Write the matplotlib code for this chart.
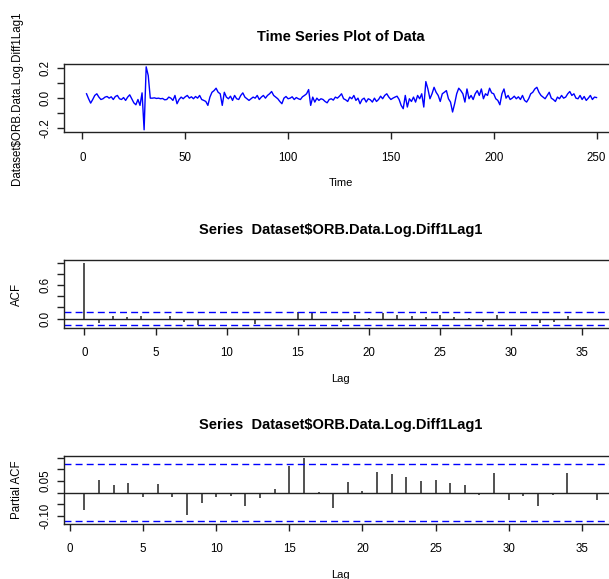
from __future__ import annotations

import matplotlib
matplotlib.use("Agg")
import matplotlib.pyplot as plt
import numpy as np

# series Dataset$ORB.Data.Log.Diff1Lag1, t = 2..250 (t = 1 is NA)
T_START = 2
SERIES = [
    0.029, -0.004, -0.033, -0.009, 0.018, 0.029, 0.007, -0.009, -0.004, 0.007,
    0.011, 0.0, 0.009, -0.009, 0.011, 0.018, -0.004, -0.009, 0.004, -0.015,
    0.007, 0.022, -0.004, -0.031, -0.044, -0.009, -0.048, 0.035, -0.21, 0.208,
    0.15, 0.0, 0.0, 0.002, -0.002, 0.0, -0.004, -0.002, -0.011, -0.009,
    0.007, 0.0, -0.015, 0.018, -0.037, -0.009, 0.007, -0.004, 0.009, 0.018,
    0.0, 0.009, -0.004, 0.011, 0.0, 0.018, -0.009, -0.015, -0.022, -0.048,
    0.007, 0.039, 0.050, 0.066, 0.039, 0.029, -0.048, 0.039, 0.007, -0.004,
    0.013, -0.015, 0.018, -0.004, -0.009, 0.018, 0.035, 0.007, -0.004, -0.015,
    -0.004, 0.007, 0.0, 0.018, -0.009, 0.007, 0.018, 0.0, 0.018, 0.029,
    0.044, 0.018, 0.007, -0.004, -0.022, -0.037, 0.0, 0.011, -0.004, 0.0,
    0.009, -0.009, 0.004, -0.004, -0.009, 0.009, 0.018, 0.029, 0.057, -0.048,
    0.007, -0.026, 0.0, -0.015, -0.004, -0.009, -0.022, -0.031, -0.009, -0.004,
    -0.013, 0.007, 0.0, 0.013, 0.029, -0.004, -0.011, -0.022, 0.007, -0.004,
    0.018, -0.015, 0.0, -0.037, -0.009, 0.0, -0.026, -0.004, -0.011, -0.026,
    0.0, -0.022, -0.009, 0.013, -0.004, 0.018, 0.029, 0.007, -0.009, 0.0,
    0.007, 0.013, -0.009, -0.048, -0.070, 0.018, -0.059, -0.004, -0.022, 0.007,
    -0.026, 0.018, -0.004, 0.029, -0.059, 0.110, 0.061, -0.004, 0.029, 0.072,
    0.039, 0.018, -0.022, 0.029, 0.039, 0.050, -0.004, -0.026, -0.092, -0.037,
    0.029, 0.066, 0.050, 0.029, -0.026, 0.061, -0.004, 0.018, -0.009, 0.029,
    0.050, 0.018, 0.061, -0.004, 0.029, 0.018, 0.066, 0.035, 0.029, -0.004,
    -0.015, -0.044, 0.029, 0.061, 0.0, 0.018, -0.009, 0.0, 0.013, -0.004,
    0.009, -0.009, 0.018, -0.015, -0.026, -0.004, 0.029, 0.039, 0.061, 0.072,
    0.039, 0.018, 0.007, -0.004, 0.018, 0.039, 0.0, -0.009, -0.022, 0.007,
    -0.004, 0.018, 0.0, 0.007, 0.029, 0.044, 0.018, 0.029, 0.0, -0.004,
    0.018, -0.009, 0.011, -0.015, 0.0, 0.018, -0.009, 0.007, 0.004,
]

# acf, lags 0..36
ACF = [
    1.0, -0.076, 0.054, 0.02, 0.045, -0.02, 0.045, -0.06, -0.11, -0.035,
    -0.02, -0.03, -0.10, -0.03, -0.03, 0.11, 0.12, -0.03, -0.06, 0.06,
    0.005, 0.10, 0.06, 0.04, 0.02, 0.06, 0.02, 0.01, -0.06, 0.06,
    -0.035, -0.005, -0.08, -0.06, 0.04, -0.035, -0.035,
]

# pacf, lags 1..36
PACF = [
    -0.076, 0.054, 0.031, 0.040, -0.020, 0.035, -0.020, -0.095, -0.044, -0.021,
    -0.017, -0.058, -0.024, 0.013, 0.114, 0.147, 0.003, -0.065, 0.044, 0.006,
    0.090, 0.080, 0.068, 0.049, 0.054, 0.040, 0.031, -0.010, 0.085, -0.030,
    -0.016, -0.056, -0.010, 0.085, -0.006, -0.030,
]

SERIES_NAME = "Dataset$ORB.Data.Log.Diff1Lag1"
ACF_TITLE = "Series  " + SERIES_NAME
TS_TITLE = "Time Series Plot of Data"

TS_YTICKS = [-0.2, -0.1, 0.0, 0.1, 0.2]
TS_YLABELS = ["-0.2", "", "0.0", "", "0.2"]
ACF_YTICKS = [0.0, 0.2, 0.4, 0.6, 0.8, 1.0]
ACF_YLABELS = ["0.0", "", "", "0.6", "", ""]
PACF_YTICKS = [-0.10, -0.05, 0.0, 0.05, 0.10, 0.15]
PACF_YLABELS = ["-0.10", "", "", "0.05", "", ""]

plt.rcParams.update(
    {
        "font.family": ["Liberation Sans", "DejaVu Sans"],
        "font.size": 8,
        "axes.linewidth": 1.0,
        "axes.edgecolor": "#222222",
    }
)

W, H = 609, 579
AX_LEFT, AX_RIGHT = 64, 617


def r_range(lo: float, hi: float) -> tuple[float, float]:
    # R's default 4% axis extension
    d = (hi - lo) * 0.04
    return lo - d, hi + d


def make_axes(fig, top: float, bottom: float):
    return fig.add_axes([AX_LEFT / W, 1 - bottom / H, (AX_RIGHT - AX_LEFT) / W, (bottom - top) / H])


def style(ax, title, title_off, xlabel, ylabel, height, yticks, ylabels, xticks):
    ax.set_xticks(xticks)
    ax.set_xticklabels([str(v) for v in xticks])
    ax.set_yticks(yticks)
    ax.set_yticklabels(ylabels, rotation=90, va="center")
    ax.tick_params(direction="out", length=5, width=1, labelsize=8.3, color="#222222")
    ax.tick_params(axis="x", pad=9)
    ax.tick_params(axis="y", pad=4)
    ax.text(0.5, 1 + title_off / height, title, transform=ax.transAxes,
            ha="center", va="center", fontsize=10.5, fontweight="bold")
    ax.set_xlabel(xlabel, fontsize=8, va="center")
    ax.xaxis.set_label_coords(0.5, -51 / height)
    ax.set_ylabel(ylabel, fontsize=8.3, va="center")
    ax.yaxis.set_label_coords(-(AX_LEFT - 17) / (AX_RIGHT - AX_LEFT), 0.5)


def main() -> None:
    fig = plt.figure(figsize=(W / 100, H / 100), dpi=100)
    n = len(SERIES)
    clim = 1.96 / np.sqrt(n)

    # time series
    ax1 = make_axes(fig, 64.3, 132.3)
    t = np.arange(T_START, T_START + n)
    ax1.plot(t, SERIES, color="#0000ff", lw=1.0)
    ax1.set_xlim(*r_range(1, t[-1]))
    ax1.set_ylim(*r_range(min(SERIES), max(SERIES)))
    style(ax1, TS_TITLE, 27, "Time", SERIES_NAME, 68, TS_YTICKS, TS_YLABELS,
          [0, 50, 100, 150, 200, 250])

    # acf
    ax2 = make_axes(fig, 260, 328)
    lags = np.arange(len(ACF))
    ax2.vlines(lags, 0, ACF, color="#222222", lw=1.1)
    ax2.axhline(0, color="#222222", lw=1.0)
    for c in (clim, -clim):
        ax2.axhline(c, color="#0000ff", lw=1.0, ls=(0, (5, 3)))
    ax2.set_xlim(*r_range(0, lags[-1]))
    ax2.set_ylim(*r_range(min(min(ACF), -clim), max(max(ACF), clim)))
    style(ax2, ACF_TITLE, 30, "Lag", "ACF", 68, ACF_YTICKS, ACF_YLABELS,
          list(range(0, 40, 5)))

    # pacf
    ax3 = make_axes(fig, 455.7, 524)
    plags = np.arange(1, len(PACF) + 1)
    ax3.vlines(plags, 0, PACF, color="#222222", lw=1.1)
    ax3.axhline(0, color="#222222", lw=1.0)
    for c in (clim, -clim):
        ax3.axhline(c, color="#0000ff", lw=1.0, ls=(0, (5, 3)))
    ax3.set_xlim(*r_range(1, plags[-1]))
    ax3.set_ylim(*r_range(min(min(PACF), -clim), max(max(PACF), clim)))
    style(ax3, ACF_TITLE, 31, "Lag", "Partial ACF", 68.3, PACF_YTICKS, PACF_YLABELS,
          list(range(0, 40, 5)))

    fig.savefig("out.png", dpi=100)
    plt.close(fig)


if __name__ == "__main__":
    main()
